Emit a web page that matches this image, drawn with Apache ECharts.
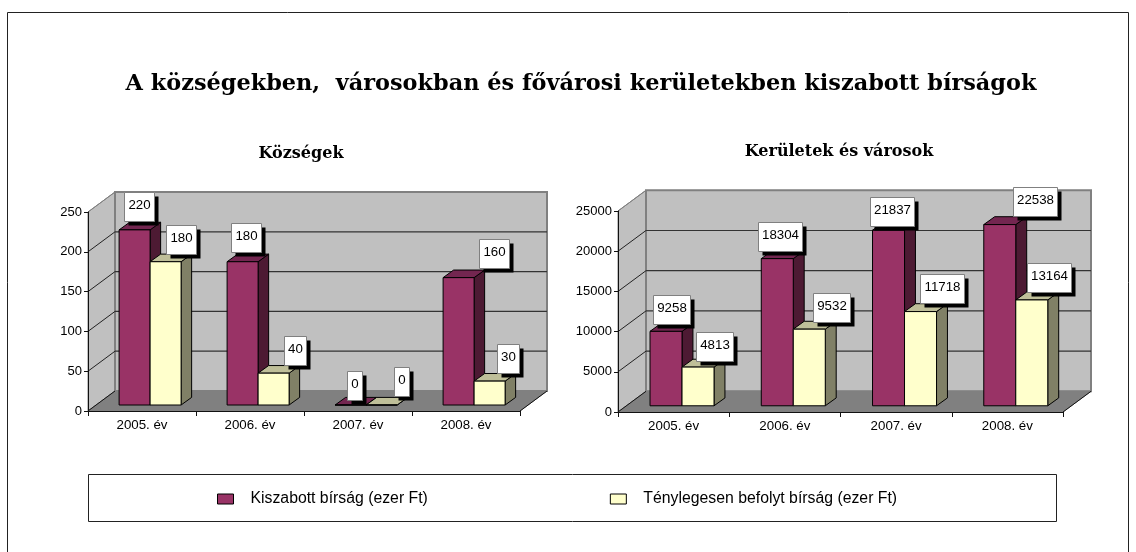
<!DOCTYPE html>
<html><head><meta charset="utf-8">
<style>html,body{margin:0;padding:0;background:#fff}#c{width:1136px;height:552px}</style>
<script src="https://cdn.jsdelivr.net/npm/echarts@6/dist/echarts.min.js"></script>
</head><body><div id="c"></div>
<script>
const categories = ['2005. év','2006. év','2007. év','2008. év'];
const kozsegKiszabott = [220,180,0,160];
const kozsegBefolyt = [180,40,0,30];
const keruletKiszabott = [9258,18304,21837,22538];
const keruletBefolyt = [4813,9532,11718,13164];
const kozsegTicks = [0,50,100,150,200,250];
const keruletTicks = [0,5000,10000,15000,20000,25000];
const nameKiszabott = 'Kiszabott bírság (ezer Ft)';
const nameBefolyt = 'Ténylegesen befolyt bírság (ezer Ft)';
const mainTitle = 'A községekben,  városokban és fővárosi kerületekben kiszabott bírságok';
const subLeft = 'Községek';
const subRight = 'Kerületek és városok';

// label placement relative to each bar's top front centre (layout, not data)
const shiftKozsegK = [[4,-23],[3,-24],[4,-20],[35,-24]];
const shiftKozsegB = [[15,-22],[21,-23],[20,-24],[18,-23]];
const shiftKeruletK = [[5,-22],[3,-22],[3,-19],[35,-23]];
const shiftKeruletB = [[16,-21],[22,-22],[21,-23],[17,-22]];

const PURPLE={front:'#993366',side:'#4d1a33',top:'#732650'};
const YELLOW={front:'#ffffcc',side:'#808066',top:'#bfbf99'};
const FONT='"Liberation Sans",Arial,sans-serif';
const SERIF='"DejaVu Serif",serif';

function wallSeries(gridIndex,depth){
  return {type:'custom',xAxisIndex:gridIndex,yAxisIndex:gridIndex,z:1,silent:true,data:[[0,0]],
    renderItem(p,api){
      const g=p.coordSys, x0=g.x,x1=g.x+g.width,yT=g.y,yB=g.y+g.height,dx=depth.dx,dy=depth.dy;
      return {type:'group',children:[
        {type:'polygon',shape:{points:[[x0,yT],[x0+dx,yT-dy],[x0+dx,yB-dy],[x0,yB]]},style:{fill:'#c0c0c0',stroke:'#808080',lineWidth:1}},
        {type:'rect',shape:{x:x0+dx,y:yT-dy,width:g.width,height:g.height},style:{fill:'#c0c0c0',stroke:'#808080',lineWidth:2}},
        {type:'polygon',shape:{points:[[x0,yB],[x1,yB],[x1+dx,yB-dy],[x0+dx,yB-dy]]},style:{fill:'#808080',stroke:'#808080',lineWidth:1}},
        {type:'line',shape:{x1:x1,y1:yB,x2:x1+dx,y2:yB-dy},style:{stroke:'#111',lineWidth:1}},
        {type:'line',shape:{x1:x0,y1:yB,x2:x0+dx,y2:yB-dy},style:{stroke:'#111',lineWidth:1}}
      ]};
    }};
}
function gridSeries(gridIndex,ticks,depth){
  return {type:'custom',xAxisIndex:gridIndex,yAxisIndex:gridIndex,z:1,silent:true,
    data:ticks.slice(1).map(v=>[0,v]),
    renderItem(p,api){
      const g=p.coordSys, y=api.coord([0,api.value(1)])[1], x0=g.x,x1=g.x+g.width,dx=depth.dx,dy=depth.dy;
      const last=api.value(1)===ticks[ticks.length-1];
      const kids=[{type:'line',shape:{x1:x0,y1:y,x2:x0+dx,y2:y-dy},style:{stroke:last?'#808080':'#222',lineWidth:1}}];
      if(!last) kids.push({type:'line',shape:{x1:x0+dx,y1:y-dy,x2:x1+dx,y2:y-dy},style:{stroke:'#333',lineWidth:1.2}});
      return {type:'group',children:kids};
    }};
}
function barSeries(gridIndex,name,values,colors,side,depth,barW){
  return {type:'custom',name,xAxisIndex:gridIndex,yAxisIndex:gridIndex,z:2,silent:true,
    itemStyle:{color:colors.front},
    data:values.map((v,i)=>[i,v]),
    renderItem(p,api){
      const c=api.coord([api.value(0),api.value(1)]), b=api.coord([api.value(0),0]);
      const sx=depth.dx*0.3, sy=depth.dy*0.3, dx=depth.dx*0.39, dy=depth.dy*0.38;
      const xL=c[0]+sx+(side<0?-barW:0), xR=xL+barW, yT=c[1]-sy, yB=b[1]-sy;
      const st=f=>({fill:f,stroke:'#000',lineWidth:1,lineJoin:'round'});
      return {type:'group',children:[
        {type:'polygon',shape:{points:[[xR,yT],[xR+dx,yT-dy],[xR+dx,yB-dy],[xR,yB]]},style:st(colors.side)},
        {type:'polygon',shape:{points:[[xL,yT],[xL+dx,yT-dy],[xR+dx,yT-dy],[xR,yT]]},style:st(colors.top)},
        {type:'rect',shape:{x:xL,y:yT,width:barW,height:yB-yT},style:st(colors.front)}
      ]};
    }};
}
function labelSeries(gridIndex,values,shifts,side,depth,barW){
  return {type:'custom',xAxisIndex:gridIndex,yAxisIndex:gridIndex,z:4,silent:true,
    data:values.map((v,i)=>[i,v]),
    renderItem(p,api){
      const i=api.value(0), v=api.value(1), c=api.coord([i,v]), s=shifts[i];
      const cx=c[0]+depth.dx*0.3+side*barW/2+s[0], cy=c[1]-depth.dy*0.3+s[1];
      const txt=String(v), w=Math.round(txt.length*7.23+8), h=29;
      const x=Math.round(cx-w/2)+0.5, y=Math.round(cy-h/2)+0.5;
      return {type:'group',children:[
        {type:'rect',shape:{x:x+4,y:y+4,width:w,height:h},style:{fill:'#000'}},
        {type:'rect',shape:{x,y,width:w,height:h},style:{fill:'#fff',stroke:'#808080',lineWidth:1}},
        {type:'text',style:{text:txt,x:x+w/2,y:y+h/2-2,align:'center',verticalAlign:'middle',fontSize:13.3,fontFamily:FONT,fill:'#000'}}
      ]};
    }};
}
const depthL={dx:27,dy:20}, depthR={dx:28,dy:20.7};
const barWL=31, barWR=32;

const chart=echarts.init(document.getElementById('c'));
const axisText={fontFamily:FONT,fontSize:13,color:'#000'};
function xAxis(gi){return {type:'category',gridIndex:gi,data:categories,boundaryGap:true,z:5,
  axisLine:{show:true,lineStyle:{color:'#111',width:1}},
  axisTick:{show:true,alignWithLabel:false,length:5,lineStyle:{color:'#111'}},
  axisLabel:{...axisText,fontSize:13.3,margin:8,interval:0},splitLine:{show:false}};}
function yAxis(gi,ticks){return {type:'value',gridIndex:gi,min:ticks[0],max:ticks[ticks.length-1],interval:ticks[1]-ticks[0],z:5,
  axisLine:{show:true,lineStyle:{color:'#111',width:1}},
  axisTick:{show:true,length:4,lineStyle:{color:'#111'}},
  axisLabel:{...axisText,margin:6,formatter:v=>String(v)},splitLine:{show:false}};}
chart.setOption({
  animation:false,backgroundColor:'#fff',
  title:[
    {text:mainTitle,left:576,top:68,textAlign:'center',textStyle:{fontFamily:SERIF,fontWeight:'bold',fontSize:22.4,color:'#000'}},
    {text:subLeft,left:296,top:141,textAlign:'center',textStyle:{fontFamily:SERIF,fontWeight:'bold',fontSize:16,color:'#000'}},
    {text:subRight,left:834,top:139,textAlign:'center',textStyle:{fontFamily:SERIF,fontWeight:'bold',fontSize:16,color:'#000'}}
  ],
  graphic:[
    {type:'rect',silent:true,z:-1,shape:{x:7.5,y:12.5,width:1121,height:560},style:{fill:'#fff',stroke:'#222',lineWidth:1}},
    {type:'rect',silent:true,z:-1,shape:{x:88.5,y:474.5,width:968,height:47},style:{fill:'#fff',stroke:'#222',lineWidth:1}}
  ],
  legend:{left:217,top:491,padding:0,icon:'rect',itemWidth:16,itemHeight:10,itemGap:182,
    textStyle:{fontFamily:FONT,fontSize:15.8,color:'#000',padding:[0,0,0,12]},
    selectedMode:false,
    data:[{name:nameKiszabott,itemStyle:{color:PURPLE.front,borderColor:'#000',borderWidth:1}},
          {name:nameBefolyt,itemStyle:{color:YELLOW.front,borderColor:'#000',borderWidth:1}}]},
  grid:[{left:88,top:212,width:432,height:199},{left:618,top:211,width:445,height:201}],
  xAxis:[xAxis(0),xAxis(1)],
  yAxis:[yAxis(0,kozsegTicks),yAxis(1,keruletTicks)],
  series:[
    wallSeries(0,depthL),gridSeries(0,kozsegTicks,depthL),
    barSeries(0,nameKiszabott,kozsegKiszabott,PURPLE,-1,depthL,barWL),
    barSeries(0,nameBefolyt,kozsegBefolyt,YELLOW,1,depthL,barWL),
    labelSeries(0,kozsegKiszabott,shiftKozsegK,-1,depthL,barWL),
    labelSeries(0,kozsegBefolyt,shiftKozsegB,1,depthL,barWL),
    wallSeries(1,depthR),gridSeries(1,keruletTicks,depthR),
    barSeries(1,nameKiszabott,keruletKiszabott,PURPLE,-1,depthR,barWR),
    barSeries(1,nameBefolyt,keruletBefolyt,YELLOW,1,depthR,barWR),
    labelSeries(1,keruletKiszabott,shiftKeruletK,-1,depthR,barWR),
    labelSeries(1,keruletBefolyt,shiftKeruletB,1,depthR,barWR)
  ]
});
</script></body></html>
